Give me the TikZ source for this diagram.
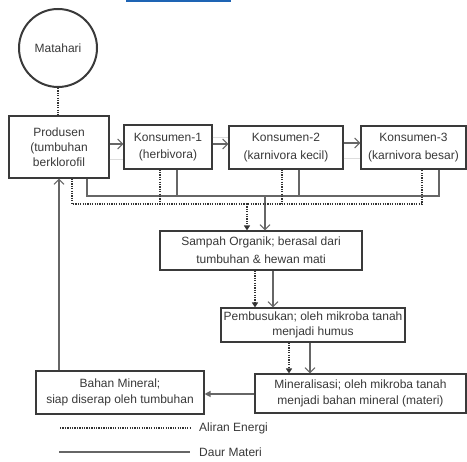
\documentclass[tikz,border=0pt]{standalone}
\usepackage{fontspec}
\setmainfont{Liberation Sans}
\usetikzlibrary{arrows.meta,calc}
\definecolor{txt}{HTML}{383838}
\definecolor{bord}{HTML}{3A3A3A}
\definecolor{mline}{HTML}{666666}
\definecolor{eline}{HTML}{333333}
\definecolor{faint}{HTML}{DDDDDD}
\definecolor{topbar}{HTML}{1E64B4}
\tikzset{
  box/.style={draw=bord, line width=1.1pt, rectangle, inner sep=0pt, align=center,
    text=txt, font=\fontsize{12}{16}\selectfont},
  mat/.style={draw=mline, line width=1.2pt},
  matarrow/.style={mat, -{Straight Barb[length=5pt,width=10pt,line width=1.1pt]}},
  matfill/.style={mat, -{Triangle[length=6pt,width=6pt]}},
  energy/.style={draw=eline, line width=1.6pt, dash pattern=on 1.3pt off 1.1pt},
  energyarrow/.style={energy, -{Triangle[length=5pt,width=6pt]}},
  faintline/.style={draw=faint, line width=0.8pt},
  lbl/.style={text=txt, font=\fontsize{12}{14}\selectfont, inner sep=0pt}
}
\begin{document}
\begin{tikzpicture}[x=1pt,y=-1pt]
\useasboundingbox (0,0) rectangle (467,462);
\fill[topbar] (126,0) rectangle (231,2.5);

% nodes
\node[circle, draw=bord, line width=2pt, minimum size=78pt, inner sep=0pt,
  text=txt, font=\fontsize{12}{14}\selectfont] (sun) at (58,48) {Matahari};
\node[box, minimum width=100pt, minimum height=62pt, font=\fontsize{12}{15}\selectfont] (prod) at (59,147) {Produsen\\(tumbuhan\\berklorofil};
\node[box, minimum width=88pt, minimum height=44pt, font=\fontsize{12}{17.5}\selectfont] (k1) at (168,147) {Konsumen-1\\(herbivora)};
\node[box, minimum width=114pt, minimum height=43pt, font=\fontsize{12}{17.5}\selectfont] (k2) at (286,147.5) {Konsumen-2\\(karnivora kecil)};
\node[box, minimum width=105pt, minimum height=43pt, font=\fontsize{12}{17.5}\selectfont] (k3) at (413.5,147.5) {Konsumen-3\\(karnivora besar)};
\node[box, minimum width=202pt, minimum height=39pt, font=\fontsize{12}{18}\selectfont] (samp) at (261,250.5) {Sampah Organik; berasal dari\\tumbuhan \& hewan mati};
\node[box, minimum width=184pt, minimum height=34pt, font=\fontsize{12}{15}\selectfont] (pemb) at (313,325) {Pembusukan; oleh mikroba tanah\\menjadi humus};
\node[box, minimum width=211pt, minimum height=39pt] (mine) at (360.5,393.5) {Mineralisasi; oleh mikroba tanah\\menjadi bahan mineral (materi)};
\node[box, minimum width=168pt, minimum height=43pt] (bahan) at (120,392.5) {Bahan Mineral;\\siap diserap oleh tumbuhan};

% faint ghost lines
\draw[faintline] ([yshift=-12pt]prod.east) -- ([yshift=-12pt]prod.east -| k1.west);
\draw[faintline] ([yshift=10pt]k1.east) -- ([yshift=10pt]k1.east -| k2.west);
\draw[faintline] ([yshift=-10.5pt]k2.east) -- ([yshift=-10.5pt]k2.east -| k3.west);

% food chain arrows
\draw[energy] (sun.south) -- (sun.south |- prod.north);
\draw[matarrow] ([yshift=3pt]prod.east) -- ([yshift=3pt]prod.east -| k1.west);
\draw[matarrow] ([yshift=3pt]k1.east) -- ([yshift=3pt]k1.east -| k2.west);
\draw[matarrow] ([yshift=4.5pt]k2.east) -- ([yshift=4.5pt]k2.east -| k3.west);

% matter bus
\coordinate (pm) at ([xshift=28pt]prod.south);
\coordinate (k1m) at ([xshift=9pt]k1.south);
\coordinate (k2m) at ([xshift=13pt]k2.south);
\coordinate (k3m) at ([xshift=25.5pt]k3.south);
\coordinate (busM) at (265,196);
\draw[mat] (pm) |- (busM) -| (k3m);
\draw[mat] (k1m) -- (k1m |- busM);
\draw[mat] (k2m) -- (k2m |- busM);
\draw[matarrow] (busM) -- (busM |- samp.north);

% energy bus
\coordinate (pe) at ([xshift=13pt]prod.south);
\coordinate (k1e) at ([xshift=-8pt]k1.south);
\coordinate (k2e) at ([xshift=-4pt]k2.south);
\coordinate (k3e) at ([xshift=8.5pt]k3.south);
\coordinate (busE) at (247,204);
\draw[energy] (pe) |- (busE) -| (k3e);
\draw[energy] (k1e) -- (k1e |- busE);
\draw[energy] (k2e) -- (k2e |- busE);
\draw[energyarrow] (busE) -- (busE |- samp.north);

% decomposition chain
\coordinate (se) at (255,270);
\coordinate (sm) at (273,270);
\draw[energyarrow] (se |- samp.south) -- (se |- pemb.north);
\draw[matarrow] (sm |- samp.south) -- (sm |- pemb.north);
\coordinate (pe2) at (289,342);
\coordinate (pm2) at (310,342);
\draw[energyarrow] (pe2 |- pemb.south) -- (pe2 |- mine.north);
\draw[matarrow] (pm2 |- pemb.south) -- (pm2 |- mine.north);
\draw[matfill] ([yshift=-0.5pt]mine.west) -- ([yshift=-0.5pt]mine.west -| bahan.east);
\draw[matarrow] (bahan.north -| prod.south) -- (prod.south);

% legend
\coordinate (l1a) at (60,428);
\coordinate (l1b) at (190,428);
\coordinate (l2a) at (59,452);
\coordinate (l2b) at (190,452);
\draw[energy, line width=1.3pt] (l1a) -- (l1b);
\draw[mat] (l2a) -- (l2b);
\node[lbl, anchor=west] (leg1) at (199,428) {Aliran Energi};
\node[lbl, anchor=west] (leg2) at (199,452) {Daur Materi};
\end{tikzpicture}
\end{document}
